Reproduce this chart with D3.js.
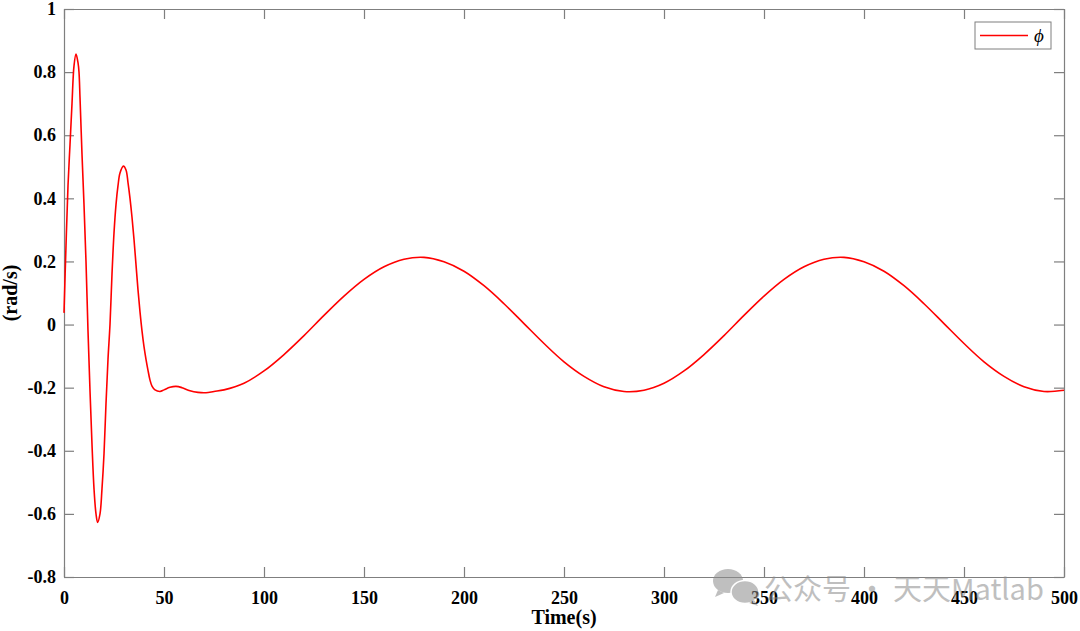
<!DOCTYPE html>
<html>
<head>
<meta charset="utf-8">
<script src="https://cdn.jsdelivr.net/npm/d3@7"></script>
<style>
  html, body { margin: 0; padding: 0; background: #fff; }
  svg text { font-family: "Liberation Serif", "Times New Roman", serif; }
</style>
</head>
<body>
<div id="chart"></div>
<script>
// time (s) and phi rate (rad/s)
const timeS = [0, 1, 2, 3, 4, 5, 6, 7, 7.5, 8, 9, 10, 11, 12, 13, 14, 15, 16, 16.8, 18, 19, 20, 21, 22, 23, 24, 25, 26, 27, 28, 29.7,
  31, 32, 33, 34, 35, 36, 37, 38, 39, 40, 41, 42, 43, 44, 45.5, 48, 50, 53, 56, 59, 63, 67, 71, 75,
  80, 90, 100, 110, 120, 130, 140, 150, 160, 170, 180, 190, 200, 210, 220, 230, 240, 250, 260, 270, 280,
  290, 300, 310, 320, 330, 340, 350, 360, 370, 380, 390, 400, 410, 420, 430, 440, 450, 460, 470, 480, 490, 500]
const phiRate = [0.037, 0.25, 0.44, 0.57, 0.70, 0.82, 0.857, 0.83, 0.80, 0.72, 0.54, 0.38, 0.20, -0.02, -0.21, -0.38, -0.52, -0.60, -0.627, -0.60, -0.52, -0.41, -0.25, -0.11, 0.00, 0.16, 0.29, 0.38, 0.44, 0.48, 0.502,
  0.49, 0.45, 0.40, 0.34, 0.27, 0.19, 0.11, 0.04, -0.02, -0.07, -0.11, -0.145, -0.176, -0.195, -0.207, -0.212, -0.207, -0.199, -0.196, -0.200, -0.210, -0.215, -0.216, -0.212,
  -0.207, -0.186, -0.147, -0.095, -0.035, 0.029, 0.090, 0.143, 0.183, 0.207, 0.213, 0.199, 0.169, 0.123, 0.066, 0.003, -0.060, -0.118, -0.164, -0.197, -0.212,
  -0.208, -0.186, -0.147, -0.095, -0.035, 0.029, 0.090, 0.143, 0.183, 0.207, 0.213, 0.199, 0.169, 0.123, 0.066, 0.003, -0.060, -0.118, -0.164, -0.197, -0.212, -0.208]
const xTicks = [0, 50, 100, 150, 200, 250, 300, 350, 400, 450, 500]
const yTicks = [-0.8, -0.6, -0.4, -0.2, 0, 0.2, 0.4, 0.6, 0.8, 1]
const legendLabel = 'ϕ'

const W = 1080, H = 631
const margin = {top: 9, right: 16, bottom: 54, left: 64}
const iw = W - margin.left - margin.right
const ih = H - margin.top - margin.bottom
const axisColor = '#7f7f7f'

let svg = d3.select('#chart').append('svg')
  .attr('width', W)
  .attr('height', H)

let x = d3.scaleLinear().domain([0, 500]).range([margin.left, margin.left + iw])
let y = d3.scaleLinear().domain([-0.8, 1]).range([margin.top + ih, margin.top])

// axes, ticks inward, mirrored on top/right like matlab's box
const tickLen = 10
function styleAxis(g) {
  g.selectAll('.domain').attr('stroke', axisColor).attr('stroke-width', 1.2)
  g.selectAll('.tick line').attr('stroke', axisColor).attr('stroke-width', 1.2)
}
// plain hyphen for negatives, like matlab
let fmt = d => String(d)

svg.append('g')
  .attr('transform', `translate(0,${margin.top + ih})`)
  .call(d3.axisBottom(x).tickValues(xTicks).tickSizeInner(-tickLen).tickSizeOuter(0).tickPadding(14).tickFormat(fmt))
  .call(styleAxis)
  .call(g => g.selectAll('text').attr('fill', '#000').style('font-size', '18px').style('font-weight', 'bold'))

svg.append('g')
  .attr('transform', `translate(0,${margin.top})`)
  .call(d3.axisTop(x).tickValues(xTicks).tickSizeInner(-tickLen).tickSizeOuter(0).tickFormat(''))
  .call(styleAxis)

svg.append('g')
  .attr('transform', `translate(${margin.left},0)`)
  .call(d3.axisLeft(y).tickValues(yTicks).tickSizeInner(-tickLen).tickSizeOuter(0).tickPadding(8).tickFormat(fmt))
  .call(styleAxis)
  .call(g => g.selectAll('text').attr('fill', '#000').style('font-size', '18px').style('font-weight', 'bold'))

svg.append('g')
  .attr('transform', `translate(${margin.left + iw},0)`)
  .call(d3.axisRight(y).tickValues(yTicks).tickSizeInner(-tickLen).tickSizeOuter(0).tickFormat(''))
  .call(styleAxis)

// axis titles
svg.append('text')
  .attr('x', margin.left + iw / 2)
  .attr('y', 624)
  .attr('text-anchor', 'middle')
  .style('font-size', '20px')
  .style('font-weight', 'bold')
  .text('Time(s)')

svg.append('text')
  .attr('transform', `translate(17,${margin.top + ih / 2}) rotate(-90)`)
  .attr('text-anchor', 'middle')
  .style('font-size', '20px')
  .style('font-weight', 'bold')
  .text('(rad/s)')

// the curve
let line = d3.line()
  .x((d, i) => x(timeS[i]))
  .y(d => y(d))
  .curve(d3.curveCatmullRom.alpha(0.5))

svg.append('path')
  .datum(phiRate)
  .attr('d', line)
  .attr('fill', 'none')
  .attr('stroke', '#ff0000')
  .attr('stroke-width', 1.6)

// legend
let lg = svg.append('g').attr('transform', 'translate(975,22)')
lg.append('rect')
  .attr('width', 76).attr('height', 27)
  .attr('fill', '#fff').attr('stroke', axisColor).attr('stroke-width', 1)
lg.append('line')
  .attr('x1', 5).attr('x2', 53).attr('y1', 13.5).attr('y2', 13.5)
  .attr('stroke', '#ff0000').attr('stroke-width', 1.6)
lg.append('text')
  .attr('x', 59).attr('y', 19.5)
  .style('font-size', '19px')
  .style('font-style', 'italic')
  .text(legendLabel)

// watermark (sits over the tick labels, as in the reference)
let wm = svg.append('g').attr('opacity', 0.55).attr('fill', '#8c8c8c')
wm.append('ellipse').attr('cx', 728).attr('cy', 581).attr('rx', 15).attr('ry', 12)
wm.append('path').attr('d', 'M718 590 l-3 7 l9 -4 z')
wm.append('ellipse').attr('cx', 745).attr('cy', 592).attr('rx', 14).attr('ry', 11.5).attr('stroke', '#fff').attr('stroke-width', 1.5)
wm.append('path').attr('d', 'M754 600 l4 6 l-9 -3 z')
wm.append('text')
  .attr('x', 764).attr('y', 600)
  .style('font-family', '"Noto Sans CJK SC", "Noto Sans", sans-serif')
  .style('font-size', '29px')
  .text('公众号 · 天天Matlab')
</script>
</body>
</html>
